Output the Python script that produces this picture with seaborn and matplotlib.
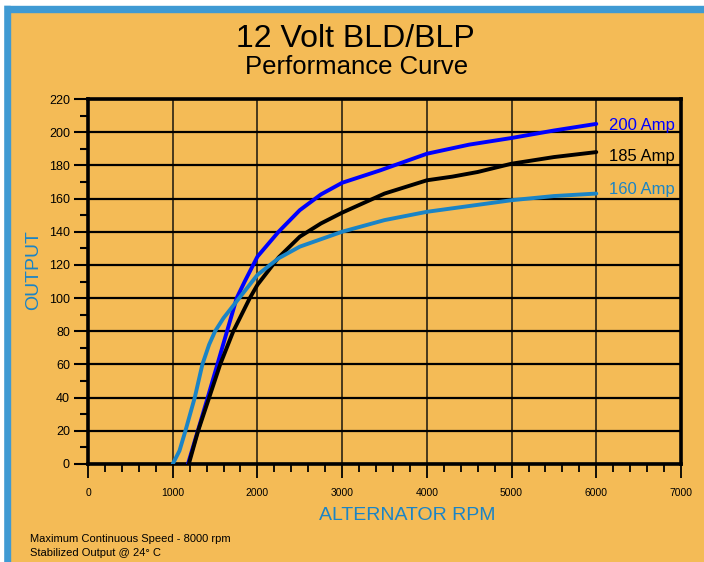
import seaborn as sns
import matplotlib.pyplot as plt
from matplotlib.patches import Rectangle
from matplotlib.ticker import MultipleLocator

# curvas (rpm -> amperes)
rpm_200 = [1180, 1413, 1527, 1641, 1755, 1850, 2000, 2250, 2500, 2750, 3000, 3450, 4000, 4500, 5000, 5500, 6000]
amp_200 = [0, 40, 60, 80, 100, 110, 125, 140, 153, 162.5, 169.5, 177, 187, 192.5, 196.5, 201, 205]

rpm_185 = [1190, 1300, 1430, 1560, 1715, 1910, 2000, 2250, 2500, 2750, 3000, 3500, 4000, 4300, 4600, 5000, 5500, 6000]
amp_185 = [0, 20, 40, 60, 80, 100, 108, 124.5, 137, 145, 151.5, 163, 171, 173.2, 176, 181, 185, 188]

rpm_160 = [1000, 1080, 1150, 1260, 1350, 1430, 1500, 1600, 1800, 2000, 2250, 2500, 3000, 3500, 4000, 4500, 5000, 5500, 6000]
amp_160 = [0, 8, 20, 40, 60, 72, 80, 88, 101, 114, 124, 131, 140, 147, 152, 155.5, 159, 161.5, 163]

series_labels = ["200 Amp", "185 Amp", "160 Amp"]
series_colors = ["#0000ff", "#000000", "#1a84c6"]
label_dy = [-1, -3, 3]  # deslocamento vertical do rotulo (pontos)

sns.set_style("ticks")
plt.rcParams['font.family'] = ['Liberation Sans', 'DejaVu Sans']
plt.rcParams['text.color'] = 'black'
plt.rcParams['xtick.color'] = 'black'
plt.rcParams['ytick.color'] = 'black'

orange = "#f4bb56"
azul_borda = "#3f9ad3"

fig = plt.figure(figsize=(7.04, 5.62), dpi=100, facecolor=orange)
# moldura azul em cima e na esquerda
fig.patches.append(Rectangle((0, 1 - 6/562), 1, 6/562, transform=fig.transFigure, color="white", zorder=-1))
fig.patches.append(Rectangle((0, 1 - 12/562), 1, 6/562, transform=fig.transFigure, color=azul_borda, zorder=-1))
fig.patches.append(Rectangle((3/704, 0), 7/704, 1 - 6/562, transform=fig.transFigure, color=azul_borda, zorder=-1))
fig.patches.append(Rectangle((0, 0), 3/704, 1, transform=fig.transFigure, color="white", zorder=-1))

ax = fig.add_axes([88/704, 1 - 464/562, (681 - 88)/704, (464 - 99)/562])
ax.set_facecolor(orange)

for xs, ys, lab, col, dy in zip([rpm_200, rpm_185, rpm_160], [amp_200, amp_185, amp_160],
                                series_labels, series_colors, label_dy):
    sns.lineplot(x=xs, y=ys, ax=ax, color=col, lw=2.8, sort=False, zorder=5)
    ax.annotate(lab, (xs[-1], ys[-1]), xytext=(9, dy), textcoords="offset points",
                color=col, fontsize=12, va="center", ha="left")

ax.set_xlim(0, 7000)
ax.set_ylim(0, 220)
ax.xaxis.set_major_locator(MultipleLocator(1000))
ax.xaxis.set_minor_locator(MultipleLocator(200))
ax.yaxis.set_major_locator(MultipleLocator(20))
ax.yaxis.set_minor_locator(MultipleLocator(10))

ax.grid(axis="y", which="major", color="black", lw=1.6)
ax.grid(axis="x", which="major", color="#2b2313", lw=1.2)
ax.set_axisbelow(True)

for s in ax.spines.values():
    s.set_linewidth(2.6)
    s.set_color("black")

ax.tick_params(axis="y", which="major", length=10, width=1.5, pad=3, labelsize=9)
ax.tick_params(axis="y", which="minor", length=6, width=1.5)
ax.tick_params(axis="x", which="major", length=10, width=1.3, pad=7, labelsize=7.5)
ax.tick_params(axis="x", which="minor", length=6, width=1.3)

ax.set_xlabel("")
ax.set_ylabel("")
fig.text(407/704, 1 - 516/562, "ALTERNATOR RPM", color="#1a84c6", fontsize=14, ha="center", va="center")
fig.text(34/704, 1 - 270/562, "OUTPUT", color="#1a84c6", fontsize=14, ha="center", va="center", rotation=90)

fig.text(355/704, 1 - 39/562, "12 Volt BLD/BLP", fontsize=23, ha="center", va="center")
fig.text(357/704, 1 - 67/562, "Performance Curve", fontsize=18.5, ha="center", va="center")

fig.text(30/704, 1 - 539/562, "Maximum Continuous Speed - 8000 rpm", fontsize=8, ha="left", va="center")
fig.text(30/704, 1 - 553/562, "Stabilized Output @ 24\u00b0 C", fontsize=8, ha="left", va="center")

fig.savefig("out.png", dpi=100, facecolor=fig.get_facecolor())
